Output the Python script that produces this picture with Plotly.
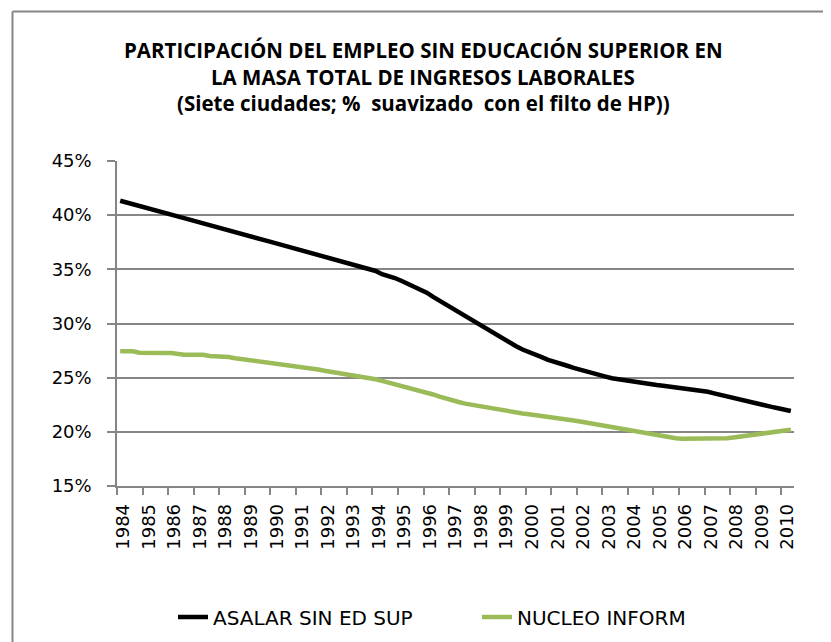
import plotly.graph_objects as go

# ---------------- data (quarterly, 1984Q1 .. 2010Q2, % HP-smoothed) ----------------
years = [str(y) for y in range(1984, 2011)]

asalar_sin_ed_sup = [
    41.33, 41.18, 41.02, 40.86,   # 1984
    40.72, 40.56, 40.40, 40.22,   # 1985
    40.06, 39.90, 39.73, 39.57,   # 1986
    39.40, 39.24, 39.07, 38.90,   # 1987
    38.74, 38.58, 38.42, 38.26,   # 1988
    38.10, 37.94, 37.77, 37.62,   # 1989
    37.47, 37.31, 37.15, 36.98,   # 1990
    36.82, 36.66, 36.50, 36.34,   # 1991
    36.18, 36.02, 35.86, 35.70,   # 1992
    35.55, 35.39, 35.22, 35.05,   # 1993
    34.85, 34.55, 34.40, 34.20,   # 1994
    33.95, 33.70, 33.45, 33.15,   # 1995
    32.85, 32.45, 32.10, 31.75,   # 1996
    31.40, 30.95, 30.60, 30.25,   # 1997
    29.90, 29.55, 29.20, 28.85,   # 1998
    28.55, 28.25, 27.90, 27.60,   # 1999
    27.40, 27.15, 26.90, 26.65,   # 2000
    26.50, 26.30, 26.10, 25.90,   # 2001
    25.72, 25.55, 25.40, 25.25,   # 2002
    25.10, 24.95, 24.85, 24.72,   # 2003
    24.62, 24.55, 24.48, 24.40,   # 2004
    24.32, 24.25, 24.18, 24.10,   # 2005
    24.03, 23.97, 23.90, 23.82,   # 2006
    23.70, 23.55, 23.40, 23.25,   # 2007
    23.10, 22.98, 22.85, 22.72,   # 2008
    22.55, 22.40, 22.30, 22.18,   # 2009
    22.05, 21.92,                 # 2010
]

nucleo_inform = [
    27.43, 27.43, 27.43, 27.30,   # 1984
    27.27, 27.27, 27.27, 27.27,   # 1985
    27.27, 27.15, 27.12, 27.12,   # 1986
    27.12, 27.12, 27.00, 26.97,   # 1987
    26.97, 26.90, 26.80, 26.72,   # 1988
    26.68, 26.62, 26.50, 26.40,   # 1989
    26.35, 26.28, 26.18, 26.10,   # 1990
    26.04, 25.95, 25.85, 25.75,   # 1991
    25.64, 25.55, 25.45, 25.35,   # 1992
    25.27, 25.15, 25.05, 24.96,   # 1993
    24.85, 24.70, 24.55, 24.45,   # 1994
    24.30, 24.15, 24.00, 23.85,   # 1995
    23.65, 23.45, 23.25, 23.05,   # 1996
    22.90, 22.75, 22.60, 22.50,   # 1997
    22.35, 22.20, 22.10, 22.00,   # 1998
    21.90, 21.82, 21.75, 21.70,   # 1999
    21.62, 21.55, 21.48, 21.40,   # 2000
    21.32, 21.25, 21.15, 21.05,   # 2001
    20.95, 20.85, 20.70, 20.58,   # 2002
    20.45, 20.35, 20.25, 20.15,   # 2003
    20.05, 19.95, 19.85, 19.75,   # 2004
    19.65, 19.55, 19.45, 19.40,   # 2005
    19.37, 19.36, 19.36, 19.36,   # 2006
    19.36, 19.36, 19.36, 19.40,   # 2007
    19.48, 19.55, 19.62, 19.72,   # 2008
    19.82, 19.92, 20.00, 20.06,   # 2009
    20.12, 20.19,                 # 2010
]

series_names = ["ASALAR SIN ED SUP", "NUCLEO INFORM"]
y_tick_values = [15, 20, 25, 30, 35, 40, 45]
y_tick_labels = ["15%", "20%", "25%", "30%", "35%", "40%", "45%"]

title_lines = [
    "PARTICIPACIÓN DEL EMPLEO SIN EDUCACIÓN SUPERIOR EN",
    "LA MASA TOTAL DE INGRESOS LABORALES",
    "(Siete ciudades; %  suavizado  con el filto de HP))",
]

# ---------------- layout geometry ----------------
W, H = 831, 642
PL, PR, PT, PB = 109, 786, 153, 478   # plot area in pixels


def px_x(px):
    return (px - PL) / (PR - PL)


def px_y(py):
    return (PB - py) / (PB - PT)


n = len(asalar_sin_ed_sup)
xs = list(range(n))
QPY = 4  # quarters per year

GRID = "#868686"
FONT = "DejaVu Sans"

fig = go.Figure()
fig.add_trace(go.Scatter(x=xs, y=asalar_sin_ed_sup, mode="lines", name=series_names[0],
                         line=dict(color="#000000", width=4.5)))
fig.add_trace(go.Scatter(x=xs, y=nucleo_inform, mode="lines", name=series_names[1],
                         line=dict(color="#9BBB59", width=4.5)))

fig.update_layout(
    width=W, height=H,
    margin=dict(l=PL, r=W - PR, t=PT, b=H - PB, pad=0),
    paper_bgcolor="white", plot_bgcolor="white",
    showlegend=True,
    legend=dict(orientation="h", x=px_x(165), xanchor="left", y=px_y(609), yanchor="middle",
                font=dict(family=FONT, size=20, color="#000000"),
                entrywidth=259, entrywidthmode="pixels",
                bgcolor="rgba(0,0,0,0)", borderwidth=0),
    font=dict(family=FONT, color="#000000"),
)

fig.update_xaxes(
    range=[-0.5, n - 0.5],
    showgrid=False, zeroline=False,
    showline=True, linecolor=GRID, linewidth=1.5,
    tickmode="array",
    tickvals=[i * QPY + 0.5 for i in range(len(years))],
    ticktext=years,
    ticks="", tickangle=-90,
    ticklabelstandoff=9,
    tickfont=dict(family=FONT, size=18, color="#000000"),
    minor=dict(tickmode="array",
               tickvals=[i * QPY - 0.5 for i in range(len(years))],
               ticks="outside", ticklen=7, tickcolor=GRID, tickwidth=1.5, showgrid=False),
)

fig.update_yaxes(
    range=[15, 45],
    tickmode="array", tickvals=y_tick_values, ticktext=y_tick_labels,
    showgrid=True, gridcolor=GRID, gridwidth=1.5,
    zeroline=False,
    showline=True, linecolor=GRID, linewidth=1.5,
    ticks="outside", ticklen=8, tickcolor=GRID, tickwidth=1.5,
    ticklabelstandoff=12,
    tickfont=dict(family=FONT, size=18, color="#000000"),
)

# title as three centred lines
title_y_px = [42, 69, 95]
for txt, ty in zip(title_lines, title_y_px):
    fig.add_annotation(text="<b>" + txt + "</b>", xref="paper", yref="paper",
                       x=px_x(415), y=px_y(ty), xanchor="center", yanchor="middle",
                       showarrow=False,
                       font=dict(family="Open Sans", size=20.5, color="#000000"))

# chart-area border (left and top edges visible)
fig.add_shape(type="line", xref="paper", yref="paper",
              x0=px_x(4.5), x1=px_x(4.5), y0=px_y(H), y1=px_y(3.5),
              line=dict(color=GRID, width=2))
fig.add_shape(type="line", xref="paper", yref="paper",
              x0=px_x(4.5), x1=px_x(W), y0=px_y(3.5), y1=px_y(3.5),
              line=dict(color=GRID, width=2))

fig.write_html("out.html")
